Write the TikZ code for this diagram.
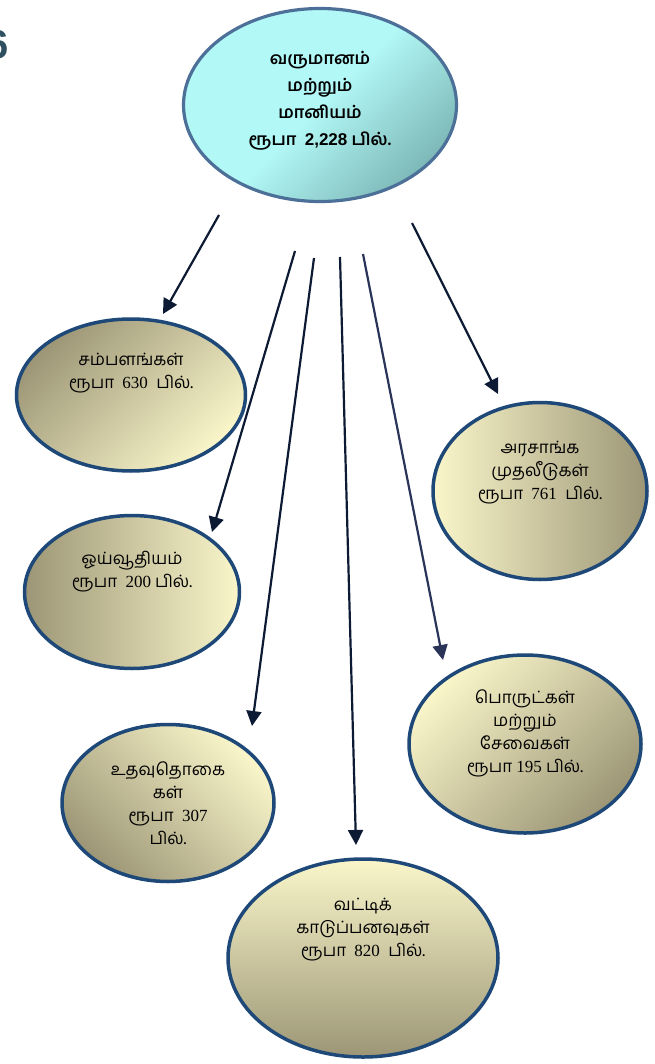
\documentclass[tikz,border=0pt]{standalone}
\usepackage{fontspec}
\setmainfont{Liberation Serif}
\newfontfamily\tamil[Script=Tamil]{Hind Madurai}
\newfontfamily\arial{Liberation Sans}
\usetikzlibrary{shapes.geometric,arrows.meta}
\definecolor{rim}{HTML}{1E4878}
\definecolor{toprim}{HTML}{4C7098}
\definecolor{khakilight}{HTML}{FAF6CA}
\definecolor{khakidark}{HTML}{9C9676}
\definecolor{aqualight}{HTML}{B2F8F6}
\definecolor{aquadark}{HTML}{7DB9B8}
\definecolor{ink}{HTML}{0C1A33}
\definecolor{inkblue}{HTML}{2A3358}
\definecolor{slate}{HTML}{2F5060}
\tikzset{
  bubble/.style={ellipse, draw=rim, line width=3.5pt, inner sep=0pt},
  litbub/.style={bubble, top color=khakilight, bottom color=khakidark, shading angle=#1},
  dimbub/.style={bubble, top color=khakidark, bottom color=khakilight, shading angle=#1},
  txt/.style={align=center, font=\tamil\fontsize{17}{23}\selectfont, text=black},
  feed/.style={draw=ink, line width=2.2pt, -{Triangle[length=15pt,width=15pt]}}
}
\begin{document}
\begin{tikzpicture}[x={(1pt,0)}, y={(0,-1pt)}]
  \useasboundingbox (0,0) rectangle (654,1064);
  \node[text=slate, font=\arial\bfseries\fontsize{40}{40}\selectfont] (pg) at (-2,45) {6};

  \node[bubble, draw=toprim, line width=3.2pt, top color=aqualight, bottom color=aquadark,
    middle color=aqualight, shading angle=45, minimum width=273, minimum height=193] (inc) at (320,105) {};
  \node[dimbub=45, minimum width=229, minimum height=152] (sal) at (131,395) {};
  \node[dimbub=90, minimum width=215, minimum height=153] (pen) at (132,592) {};
  \node[litbub=-45, minimum width=212, minimum height=157] (sub) at (168,803) {};
  \node[litbub=0, minimum width=270, minimum height=198] (int) at (363,958) {};
  \node[litbub=90, minimum width=214, minimum height=177] (gov) at (540,491) {};
  \node[litbub=45, minimum width=232, minimum height=178] (gds) at (525,744) {};

  \node[txt, font=\tamil\bfseries\fontsize{17}{27}\selectfont] (inc-t) at ([yshift=4pt]inc.center)
    {வருமானம்\\மற்றும்\\மானியம்\\ரூபா~~{\arial\bfseries 2,228} பில்.};
  \node[txt] (sal-t) at ([yshift=22pt]sal.center) {சம்பளங்கள்\\ரூபா~~{\rmfamily 630}~~பில்.};
  \node[txt] (pen-t) at ([yshift=20pt]pen.center) {ஓய்வூதியம்\\ரூபா~~{\rmfamily 200} பில்.};
  \node[txt] (sub-t) at (sub.center) {உதவுதொகை\\கள்\\ரூபா~~{\rmfamily 307}\\பில்.};
  \node[txt] (int-t) at ([yshift=28pt]int.center) {வட்டிக்\\காடுப்பனவுகள்\\ரூபா~~{\rmfamily 820}~~பில்.};
  \node[txt] (gov-t) at ([yshift=18pt]gov.center) {அரசாங்க\\முதலீடுகள்\\ரூபா~~{\rmfamily 761}~~பில்.};
  \node[txt] (gds-t) at ([yshift=11pt]gds.center) {பொருட்கள்\\மற்றும்\\சேவைகள்\\ரூபா {\rmfamily 195} பில்.};

  \coordinate (sal-out) at (219,215);  \coordinate (sal-in) at (163,314);
  \coordinate (pen-out) at (295,251);  \coordinate (pen-in) at (212,532);
  \coordinate (sub-out) at (314,258);  \coordinate (sub-in) at (252,726);
  \coordinate (int-out) at (340,257);  \coordinate (int-in) at (356,845);
  \coordinate (gds-out) at (363,254);  \coordinate (gds-in) at (443,660);
  \coordinate (gov-out) at (412,223);  \coordinate (gov-in) at (498,394);
  \foreach \n in {sal, pen, sub, int, gov}
    \draw[feed] (\n-out) -- (\n-in);
  \draw[feed, draw=inkblue] (gds-out) -- (gds-in);
\end{tikzpicture}
\end{document}
